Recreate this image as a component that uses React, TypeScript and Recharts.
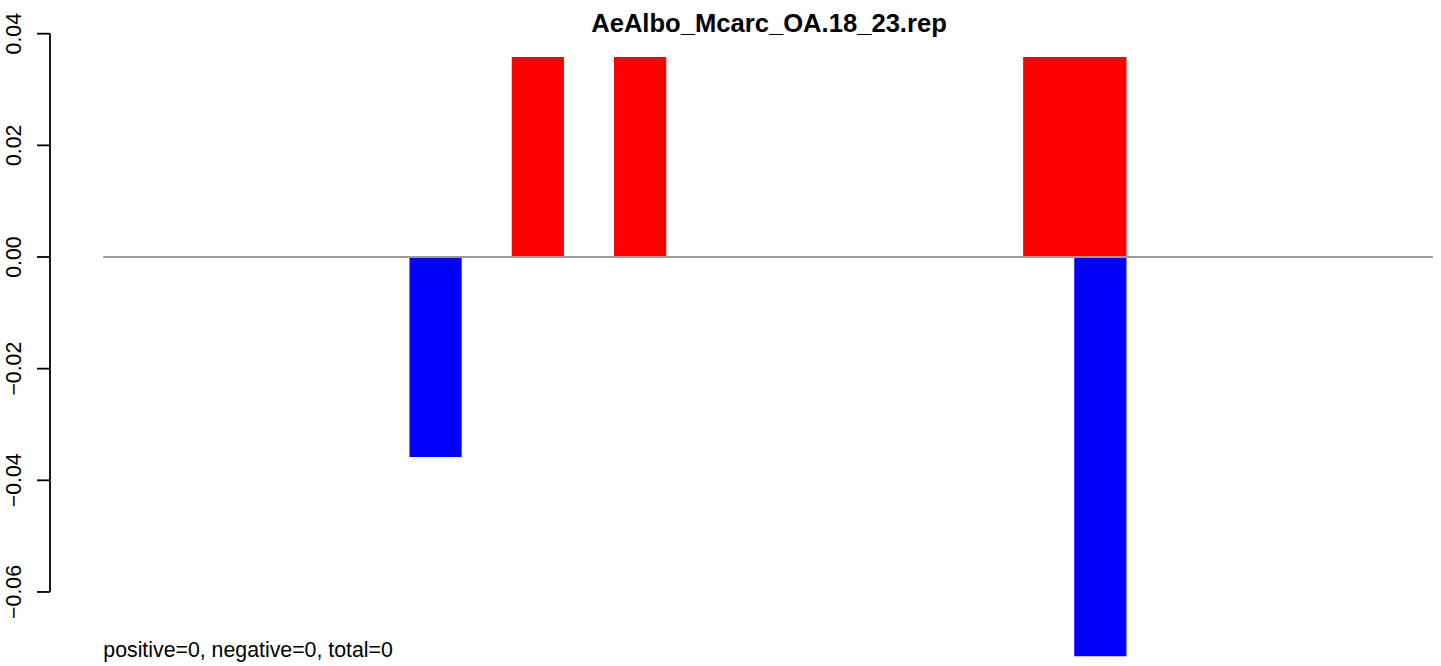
import { BarChart, Bar, XAxis, YAxis, ReferenceLine } from "recharts";

// 26 positions, red = positive part, blue = negative part
const positions = Array.from({ length: 26 }, (_, i) => `p${i + 1}`);
const positiveValues: (number | null)[] = [
  null, null, null, null, null, null, null, null, 0.0357, null, 0.0357, null, null,
  null, null, null, null, null, 0.0357, 0.0357, null, null, null, null, null, null,
];
const negativeValues: (number | null)[] = [
  null, null, null, null, null, null, -0.0357, null, null, null, null, null, null,
  null, null, null, null, null, null, -0.0714, null, null, null, null, null, null,
];
const yTicks = [-0.06, -0.04, -0.02, 0, 0.02, 0.04];
const chartTitle = "AeAlbo_Mcarc_OA.18_23.rep";
const footnote = "positive=0, negative=0, total=0";

const data = positions.map((name, i) => ({
  name,
  pos: positiveValues[i],
  neg: negativeValues[i],
}));

const FONT = '"Liberation Sans", Arial, Helvetica, sans-serif';
const AXIS_X = 50;

// y coords of the ticks, collected while they render, so the axis line
// only runs from the lowest to the highest tick (like base R)
let tickYs: number[] = [];

const YTick = (props: any) => {
  const { y, payload, index } = props;
  if (index === 0) tickYs = [];
  tickYs.push(y);
  const last = index === yTicks.length - 1;
  const label = payload.value === 0 ? "0.00" : payload.value.toFixed(2).replace("-", "\u2212");
  return (
    <g>
      {last && (
        <line
          x1={AXIS_X}
          x2={AXIS_X}
          y1={Math.min(...tickYs)}
          y2={Math.max(...tickYs)}
          stroke="#000"
          strokeWidth={1.8}
        />
      )}
      <line x1={AXIS_X - 13} x2={AXIS_X} y1={y} y2={y} stroke="#000" strokeWidth={1.8} />
      <text
        x={21.5}
        y={y}
        transform={`rotate(-90, 21.5, ${y})`}
        textAnchor="middle"
        fontFamily={FONT}
        fontSize={21.3}
        fill="#000"
      >
        {label}
      </text>
    </g>
  );
};

export default function App() {
  return (
    <div style={{ position: "absolute", left: 0, top: 0, background: "#fff" }}>
      <BarChart
        width={1441}
        height={666}
        data={data}
        stackOffset="sign"
        barCategoryGap={0}
        barGap={0}
        margin={{ top: 33.7, right: 8.1, bottom: 10.4, left: 0 }}
      >
        <XAxis dataKey="name" hide />
        <YAxis
          width={103.2}
          domain={[-0.0714, 0.04]}
          ticks={yTicks}
          interval={0}
          axisLine={false}
          tickLine={false}
          tick={<YTick />}
        />
        <Bar
          dataKey="pos"
          stackId="a"
          fill="#FF0000"
          stroke="#FF0000"
          strokeWidth={1.2}
          isAnimationActive={false}
        />
        <Bar
          dataKey="neg"
          stackId="a"
          fill="#0000FF"
          stroke="#0000FF"
          strokeWidth={1.2}
          isAnimationActive={false}
        />
        <ReferenceLine y={0} stroke="#999999" strokeWidth={2} />
        <text
          x={769}
          y={31.5}
          textAnchor="middle"
          fontFamily={FONT}
          fontWeight="bold"
          fontSize={25.6}
          fill="#000"
        >
          {chartTitle}
        </text>
        <text x={103.3} y={657} fontFamily={FONT} fontSize={21.3} fill="#000">
          {footnote}
        </text>
      </BarChart>
    </div>
  );
}
